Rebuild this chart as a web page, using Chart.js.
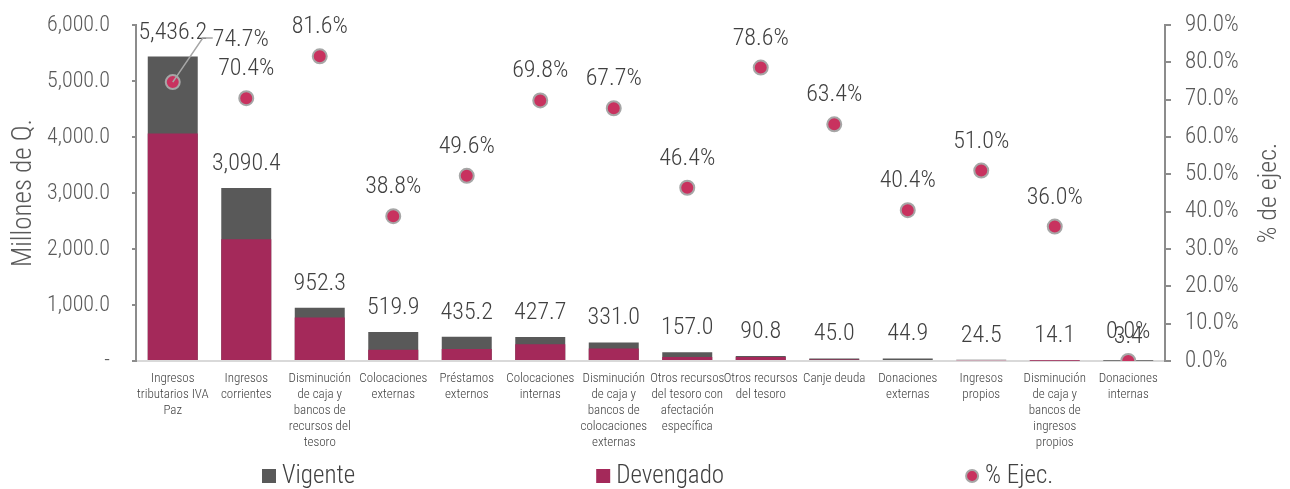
<!DOCTYPE html>
<html>
<head>
<meta charset="utf-8">
<script src="https://cdn.jsdelivr.net/npm/chart.js@4.4.1/dist/chart.umd.min.js"></script>
<style>
  body { margin: 0; background: #fff; }
  #wrap { width: 1290px; height: 489px; }
</style>
</head>
<body>
<div id="wrap"><canvas id="ejecChart" width="1290" height="489"></canvas></div>
<script>
const FONT = "'Roboto Condensed', 'DejaVu Sans Condensed', sans-serif";

// categorias (ya partidas en lineas como en el original)
const categorias = [
    ['Ingresos', 'tributarios IVA', 'Paz'],
    ['Ingresos', 'corrientes'],
    ['Disminución', 'de caja y', 'bancos de', 'recursos del', 'tesoro'],
    ['Colocaciones', 'externas'],
    ['Préstamos', 'externos'],
    ['Colocaciones', 'internas'],
    ['Disminución', 'de caja y', 'bancos de', 'colocaciones', 'externas'],
    ['Otros recursos', 'del tesoro con', 'afectación', 'específica'],
    ['Otros recursos', 'del tesoro'],
    ['Canje deuda'],
    ['Donaciones', 'externas'],
    ['Ingresos', 'propios'],
    ['Disminución', 'de caja y', 'bancos de', 'ingresos', 'propios'],
    ['Donaciones', 'internas']
];

// millones de Q.
const vigente = [5436.2, 3090.4, 952.3, 519.9, 435.2, 427.7, 331.0, 157.0, 90.8, 45.0, 44.9, 24.5, 14.1, 3.4];
const devengado = [4061, 2176, 777, 202, 216, 299, 224, 73, 71, 28.5, 18.1, 12.5, 5.1, 0];
const pctEjec = [74.7, 70.4, 81.6, 38.8, 49.6, 69.8, 67.7, 46.4, 78.6, 63.4, 40.4, 51.0, 36.0, 0.0];

const leftTicks = [0, 1000, 2000, 3000, 4000, 5000, 6000];
const rightTicks = [0, 10, 20, 30, 40, 50, 60, 70, 80, 90];

const colVigente = '#595959';
const colDevengado = '#A4295A';
const colPunto = '#C8325F';
const colBordePunto = '#A6A6A6';

function fmtMiles(v) {
    return v.toLocaleString('en-US', { minimumFractionDigits: 1, maximumFractionDigits: 1 });
}

// etiquetas de datos, titulo derecho y leyenda dibujados a mano
const etiquetasPlugin = {
    id: 'etiquetas',
    afterDatasetsDraw(chart) {
        const ctx = chart.ctx;
        ctx.save();
        ctx.font = '300 24px ' + FONT;
        ctx.fillStyle = '#404040';
        ctx.textAlign = 'center';
        ctx.textBaseline = 'middle';

        const metaVig = chart.getDatasetMeta(2);
        metaVig.data.forEach((bar, i) => {
            ctx.fillText(fmtMiles(vigente[i]), bar.x, bar.y - 24);
        });

        const metaPct = chart.getDatasetMeta(0);
        metaPct.data.forEach((pt, i) => {
            const txt = pctEjec[i].toFixed(1) + '%';
            if (i === 0) {
                // etiqueta desplazada con linea guia (como en Excel)
                ctx.strokeStyle = '#A6A6A6';
                ctx.lineWidth = 1.5;
                ctx.beginPath();
                ctx.moveTo(pt.x, pt.y);
                ctx.lineTo(pt.x + 30, pt.y - 44);
                ctx.lineTo(pt.x + 40, pt.y - 44);
                ctx.stroke();
                ctx.textAlign = 'left';
                ctx.fillText(txt, pt.x + 40, pt.y - 42);
                ctx.textAlign = 'center';
            } else {
                ctx.fillText(txt, pt.x, pt.y - 29);
            }
        });
        ctx.restore();
    },
    afterDraw(chart) {
        const ctx = chart.ctx;
        const area = chart.chartArea;

        // titulo del eje derecho, leido de abajo hacia arriba
        ctx.save();
        ctx.font = '300 26px ' + FONT;
        ctx.fillStyle = '#595959';
        ctx.textAlign = 'center';
        ctx.textBaseline = 'middle';
        ctx.translate(1269, (area.top + area.bottom) / 2);
        ctx.rotate(-Math.PI / 2);
        ctx.fillText('% de ejec.', 0, 0);
        ctx.restore();

        const items = [
            { text: 'Vigente', color: colVigente, tipo: 'box' },
            { text: 'Devengado', color: colDevengado, tipo: 'box' },
            { text: '% Ejec.', color: colPunto, tipo: 'punto' }
        ];
        ctx.save();
        ctx.font = '300 25px ' + FONT;
        ctx.textBaseline = 'middle';
        const gap = 241;
        const box = 14;
        let x = 262;
        const y = 476;
        items.forEach(it => {
            if (it.tipo === 'box') {
                ctx.fillStyle = it.color;
                ctx.fillRect(x, y - box / 2, box, box);
            } else {
                ctx.beginPath();
                ctx.arc(x + box / 2, y, 6, 0, Math.PI * 2);
                ctx.fillStyle = it.color;
                ctx.fill();
                ctx.lineWidth = 2;
                ctx.strokeStyle = colBordePunto;
                ctx.stroke();
            }
            ctx.fillStyle = '#404040';
            ctx.fillText(it.text, x + box + 6, y + 1);
            x += box + 6 + ctx.measureText(it.text).width + gap;
        });
        ctx.restore();
    }
};

// quita el relleno extra que Chart.js agrega arriba/abajo de los ejes verticales
function ajustarEjeVertical(ancho) {
    return function (scale) {
        scale.width = ancho;
        scale.paddingTop = 0;
        scale.paddingBottom = 0;
    };
}

const ctx = document.getElementById('ejecChart').getContext('2d');
const chart = new Chart(ctx, {
    type: 'bar',
    data: {
        labels: categorias,
        datasets: [
            {
                type: 'line',
                label: '% Ejec.',
                data: pctEjec,
                yAxisID: 'y1',
                showLine: false,
                pointRadius: 7,
                pointBackgroundColor: colPunto,
                pointBorderColor: colBordePunto,
                pointBorderWidth: 2
            },
            {
                label: 'Devengado',
                data: devengado,
                backgroundColor: colDevengado,
                grouped: false,
                yAxisID: 'y'
            },
            {
                label: 'Vigente',
                data: vigente,
                backgroundColor: colVigente,
                grouped: false,
                yAxisID: 'y'
            }
        ]
    },
    options: {
        responsive: false,
        animation: false,
        datasets: {
            bar: { categoryPercentage: 1, barPercentage: 0.68 }
        },
        layout: { padding: { top: 25, bottom: 34, left: 0, right: 0 } },
        plugins: {
            legend: { display: false },
            tooltip: { enabled: false }
        },
        scales: {
            x: {
                grid: { display: false, drawTicks: false },
                border: { color: '#D9D9D9', width: 2 },
                ticks: {
                    color: '#404040',
                    font: { family: FONT, size: 13, weight: 300, lineHeight: 1.23 },
                    maxRotation: 0,
                    autoSkip: false,
                    padding: 10
                },
                afterFit(scale) { scale.height = 94; }
            },
            y: {
                position: 'left',
                min: 0,
                max: 6000,
                afterBuildTicks(scale) { scale.ticks = leftTicks.map(v => ({ value: v })); },
                grid: { display: true, drawOnChartArea: false, drawTicks: true, tickLength: 4, color: '#8C8C8C', lineWidth: 2 },
                border: { color: '#8C8C8C', width: 2 },
                ticks: {
                    color: '#595959',
                    font: { family: FONT, size: 22, weight: 300 },
                    padding: 22,
                    callback: v => v === 0 ? '-' : fmtMiles(v)
                },
                title: {
                    display: true,
                    text: 'Millones de Q.',
                    color: '#595959',
                    font: { family: FONT, size: 27, weight: 300 },
                    padding: { top: 8, bottom: 0 }
                },
                afterFit: ajustarEjeVertical(136)
            },
            y1: {
                position: 'right',
                min: 0,
                max: 90,
                afterBuildTicks(scale) { scale.ticks = rightTicks.map(v => ({ value: v })); },
                grid: { display: true, drawOnChartArea: false, drawTicks: true, tickLength: 6, color: '#8C8C8C', lineWidth: 2 },
                border: { color: '#8C8C8C', width: 2 },
                ticks: {
                    color: '#595959',
                    font: { family: FONT, size: 23, weight: 300 },
                    padding: 14,
                    callback: v => v.toFixed(1) + '%'
                },
                afterFit: ajustarEjeVertical(125)
            }
        }
    },
    plugins: [etiquetasPlugin]
});
</script>
</body>
</html>
